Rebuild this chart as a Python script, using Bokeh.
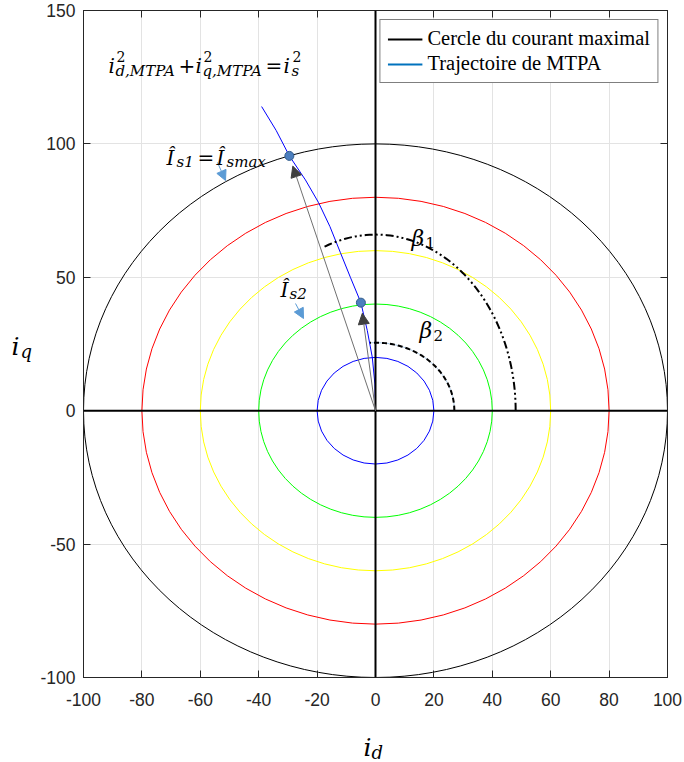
import numpy as np
from bokeh.plotting import figure
from bokeh.models import (Range1d, Label, Arrow, NormalHead, Span, Legend, LegendItem,
                          LinearAxis, FixedTicker, ColumnDataSource)
from bokeh.embed import file_html
from bokeh.resources import INLINE

# ---------------- data ----------------
circle_radii = [20, 40, 60, 80, 100]
circle_colors = ["#0000FF", "#00FF00", "#FFFF00", "#FF0000", "#000000"]

mtpa_id = [0, -0.2, -1.1, -2.8, -5.0, -8.6, -12.0, -15.6, -19.5, -24.0, -29.5, -34.0, -39.0]
mtpa_iq = [0, 10, 20, 30, 40.5, 50, 59.2, 69, 78, 86.5, 95.5, 105, 114]

op_id = [-29.5, -5.0]   # operating points Is1, Is2
op_iq = [95.5, 40.5]

beta1_axes = (48, 66)   # semi-axes (id, iq) of beta1 arc
beta2_axes = (27, 25.5)

x_ticks = [-100, -80, -60, -40, -20, 0, 20, 40, 60, 80, 100]
y_ticks = [-100, -50, 0, 50, 100, 150]

legend_labels = ["Cercle du courant maximal", "Trajectoire de MTPA"]

# ---------------- figure ----------------
W, H = 684, 762
L, R, T, B = 83, 17, 10, 85
p = figure(width=W, height=H, output_backend="svg", toolbar_location=None,
           x_range=Range1d(-100, 100), y_range=Range1d(-100, 150),
           min_border_left=L, min_border_right=R, min_border_top=T, min_border_bottom=B)
p.background_fill_color = "white"
p.outline_line_color = "#262626"
p.outline_line_width = 1

fw, fh = W - L - R, H - T - B
def dx(px):
    return -100 + (px - L) * 200.0 / fw
def dy(py):
    return 150 - (py - T) * 250.0 / fh

tick_font = "'Liberation Sans', Arial, sans-serif"
for ax in (p.xaxis[0], p.yaxis[0]):
    ax.major_tick_in = 7
    ax.major_tick_out = 0
    ax.minor_tick_line_color = None
    ax.axis_line_color = "#262626"
    ax.major_tick_line_color = "#262626"
    ax.major_label_text_font = tick_font
    ax.major_label_text_font_size = "17.5px"
    ax.major_label_text_color = "#262626"
p.xaxis[0].ticker = FixedTicker(ticks=x_ticks)
p.yaxis[0].ticker = FixedTicker(ticks=y_ticks)
p.xaxis[0].major_label_overrides = {t: str(t) for t in x_ticks}
p.yaxis[0].major_label_overrides = {t: str(t) for t in y_ticks}
p.xaxis[0].major_label_standoff = 15
p.yaxis[0].major_label_standoff = 8

for loc, tk in (("right", y_ticks), ("above", x_ticks)):
    ax = LinearAxis(ticker=FixedTicker(ticks=tk), major_tick_in=7, major_tick_out=0,
                    minor_tick_line_color=None, major_label_text_font_size="0px",
                    major_label_standoff=0, axis_line_color="#262626",
                    major_tick_line_color="#262626")
    ax.major_label_overrides = {t: "" for t in tk}
    p.add_layout(ax, loc)

p.xgrid.ticker = FixedTicker(ticks=x_ticks)
p.ygrid.ticker = FixedTicker(ticks=y_ticks)
p.xgrid.grid_line_color = "#e3e3e3"
p.ygrid.grid_line_color = "#e3e3e3"

# circles
csrc = ColumnDataSource(dict(x=[0] * 5, y=[0] * 5, w=[2 * r for r in circle_radii],
                             h=[2 * r for r in circle_radii], c=circle_colors))
p.ellipse(x="x", y="y", width="w", height="h", source=csrc, fill_color=None,
          line_color="c", line_width=1)

# MTPA curve
p.line(mtpa_id, mtpa_iq, line_color="#0000FF", line_width=1)

# d/q axes lines through origin
p.add_layout(Span(location=0, dimension="width", line_color="black", line_width=2))
p.add_layout(Span(location=0, dimension="height", line_color="black", line_width=2))

# beta arcs
def ell_arc(a, b, x_start):
    t_end = np.arccos(x_start / a)
    t = np.linspace(0, t_end, 80)
    return a * np.cos(t), b * np.sin(t)

bx, by = ell_arc(beta1_axes[0], beta1_axes[1], -18.3)
p.line(bx, by, line_color="black", line_width=2, line_dash="8 3 2 3 2 3")
bx2, by2 = ell_arc(beta2_axes[0], beta2_axes[1], -1.9)
p.line(bx2, by2, line_color="#a9c6e2", line_width=1)
p.line(bx2, by2, line_color="black", line_width=2, line_dash="5 3")

# vectors from origin to operating points
for xi, yi in zip(op_id, op_iq):
    r = np.hypot(xi, yi)
    k = (r - 4.0) / r
    p.add_layout(Arrow(x_start=0, y_start=0, x_end=xi * k, y_end=yi * k,
                       line_color="#707070", line_width=1,
                       end=NormalHead(size=11, fill_color="#404040", line_color="#404040",
                                      line_width=1)))

p.scatter(op_id, op_iq, size=9, fill_color="#4C7FBF", line_color="#2F5A8A", line_width=1)

# small pointer arrows
for (x0, y0, x1, y1) in [(217, 162, 225, 180), (295, 303, 303, 318)]:
    p.add_layout(Arrow(x_start=dx(x0), y_start=dy(y0), x_end=dx(x1), y_end=dy(y1),
                       line_color="#5B9BD5", line_width=1,
                       end=NormalHead(size=10, fill_color="#5B9BD5", line_color="#5B9BD5",
                                      line_width=1)))

# ---------------- texts ----------------
MATH = "DejaVu Serif"
def lbl(text, px, py, size, style="italic", font=MATH, color="black", place="center"):
    lab = Label(x=dx(px), y=dy(py), text=text, text_font=font,
                text_font_size=f"{size}px", text_font_style=style,
                text_color=color, text_align="left", text_baseline="alphabetic")
    p.add_layout(lab, place)

# formula
lbl("i", 108, 65, 20)
lbl("2", 116, 56, 14, "normal")
lbl("d,MTPA", 115, 70, 15)
lbl("+", 178, 65, 20, "normal")
lbl("i", 195, 65, 20)
lbl("2", 203, 56, 14, "normal")
lbl("q,MTPA", 202, 70, 15)
lbl("=", 265, 65, 20, "normal")
lbl("i", 283, 65, 20)
lbl("2", 292, 56, 14, "normal")
lbl("s", 291, 70, 15)

# Is1 = Ismax
lbl("Î", 166, 157, 20)
lbl("s1", 176, 161, 15)
lbl("=", 197, 157, 20, "normal")
lbl("Î", 216, 157, 20)
lbl("smax", 226, 161, 15)
# Is2
lbl("Î", 280, 289, 20)
lbl("s2", 289, 293, 15)
# betas
lbl("β", 411, 238, 22)
lbl("1", 425, 242, 15, "normal")
lbl("β", 419, 330, 22)
lbl("2", 433, 335, 15, "normal")
# axis labels (outside the frame -> side panels, not clipped)
lbl("i", 11, 346, 25, place="left")
lbl("q", 20, 351, 18, place="left")
lbl("i", 363, 747, 25, place="below")
lbl("d", 371, 752, 18, place="below")

# ---------------- legend ----------------
r1 = p.line([np.nan, np.nan], [np.nan, np.nan], line_color="black", line_width=2)
r2 = p.line([np.nan, np.nan], [np.nan, np.nan], line_color="#0072BD", line_width=2)
leg = Legend(items=[LegendItem(label=legend_labels[0], renderers=[r1]),
                    LegendItem(label=legend_labels[1], renderers=[r2])],
             location="top_right", margin=9, padding=7, spacing=2,
             glyph_width=35, glyph_height=20, label_height=20, label_standoff=5,
             label_text_font="'Liberation Serif', 'Times New Roman', serif",
             label_text_font_size="20.5px", label_text_color="black",
             border_line_color="black", border_line_width=1,
             background_fill_color="white", background_fill_alpha=1)
p.add_layout(leg)

open("out.html", "w").write(file_html(p, INLINE))
